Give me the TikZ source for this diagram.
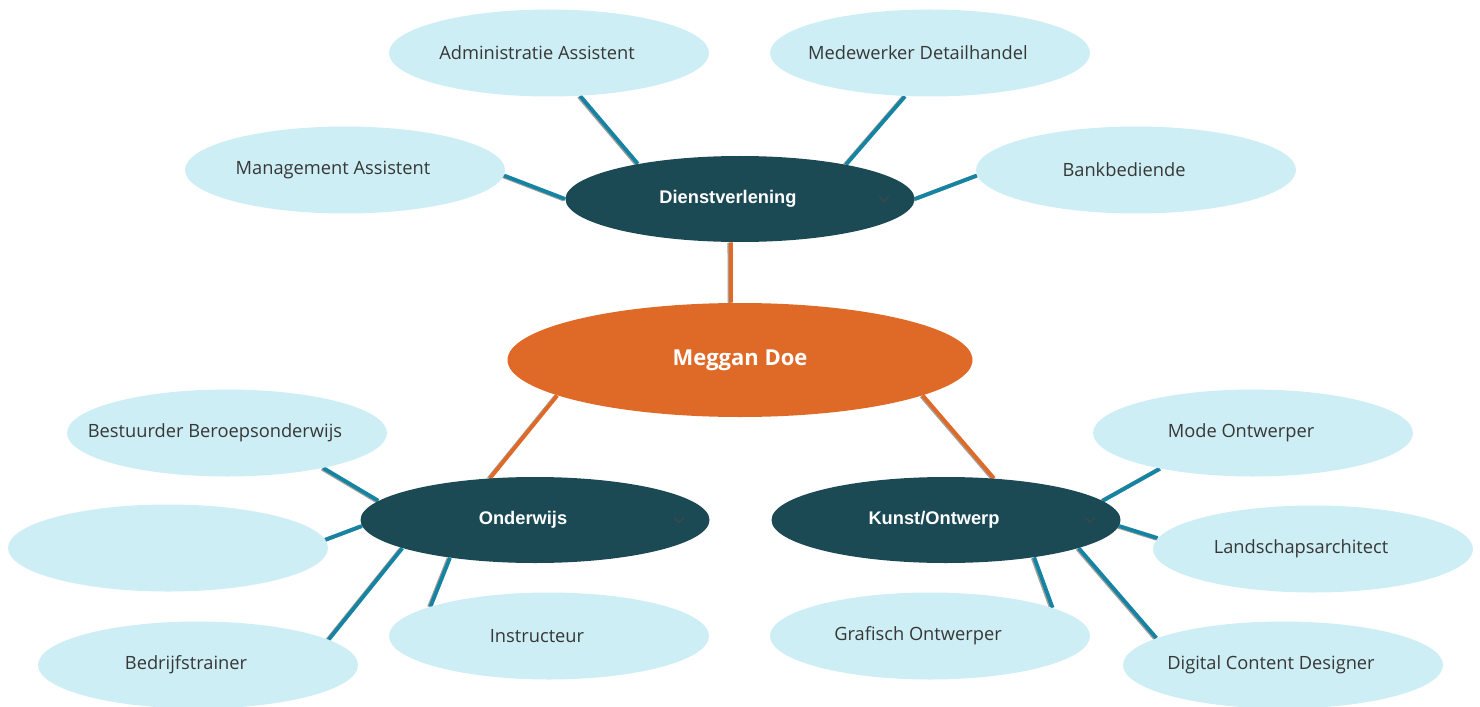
\documentclass[tikz,border=0pt]{standalone}
\usepackage{fontspec}
\setmainfont{Open Sans}
\newfontfamily\branchfont{Liberation Sans}
\usetikzlibrary{shapes.geometric,backgrounds}

\definecolor{leaffill}{RGB}{205,238,244}
\definecolor{leaftext}{RGB}{55,55,55}
\definecolor{darkteal}{RGB}{27,74,85}
\definecolor{rootorange}{RGB}{223,106,40}
\definecolor{linkblue}{RGB}{21,132,163}
\definecolor{shadowgray}{RGB}{165,160,155}
\definecolor{chevrongray}{RGB}{70,70,70}

\tikzstyle{leaf} = [ellipse,fill=leaffill,minimum width=6.4cm,minimum height=1.74cm,inner sep=0pt,text=leaftext,font=\fontsize{10.4}{12}\selectfont]
\tikzstyle{branch} = [ellipse,fill=darkteal,minimum width=6.98cm,minimum height=1.72cm,inner sep=0pt,text=white,font=\branchfont\bfseries\fontsize{10.4}{12}\selectfont]
\tikzstyle{root} = [ellipse,fill=rootorange,minimum width=9.3cm,minimum height=2.28cm,inner sep=0pt,text=white,font=\bfseries\fontsize{12.5}{15}\selectfont]
\tikzstyle{link} = [draw,line width=2.2pt,linkblue]
\tikzstyle{rootlink} = [draw,line width=2.2pt,rootorange]
\tikzstyle{linkshadow} = [draw,line width=2.2pt,shadowgray,transform canvas={xshift=-0.8pt,yshift=-0.3pt}]
\tikzstyle{chevron} = [draw=chevrongray,line width=0.6pt]

% text sits a little left of the ellipse centre, and never widens it
\newcommand{\leftish}[1]{\makebox[0pt]{#1\kern0.48cm}}

\begin{document}
\begin{tikzpicture}
      \useasboundingbox (0,0) rectangle (29.6,-14.12);
      % nodes
      \node[root] (root) at (14.8,-7.2) {Meggan Doe};
      \foreach \nodename/\x/\y/\text in {
        dienst/14.8/-3.98/Dienstverlening,
        onder/10.7/-10.4/Onderwijs,
        kunst/18.92/-10.4/Kunst\slash Ontwerp}
      {
        \node[branch] (\nodename) at (\x,\y) {\leftish{\text}};
        \draw[chevron, shift={(\nodename.center)}] (2.78,0.05) -- (2.88,-0.05) -- (2.98,0.05);
      };
      \foreach \nodename/\x/\y/\text in {
        admin/10.98/-1.06/Administratie Assistent,
        medew/18.6/-1.06/Medewerker Detailhandel,
        manag/6.9/-3.4/Management Assistent,
        bank/22.72/-3.4/Bankbediende,
        bestuur/4.54/-8.66/Bestuurder Beroepsonderwijs,
        leeg/3.36/-10.96/{},
        bedrijf/3.96/-13.3/Bedrijfstrainer,
        instruct/10.98/-12.72/Instructeur,
        mode/25.06/-8.66/Mode Ontwerper,
        landsch/26.26/-10.98/Landschapsarchitect,
        digital/25.66/-13.3/Digital Content Designer,
        grafisch/18.6/-12.72/Grafisch Ontwerper}
      {
        \node[leaf] (\nodename) at (\x,\y) {\leftish{\text}};
      };
      %edges
      \begin{scope}[on background layer]
        \foreach \startnode/\startangle/\endnode/\endangle in {
          root/99/dienst/258, root/191/onder/137, root/-11/kunst/41}
        {
          \draw[linkshadow] (\startnode.\startangle) -- (\endnode.\endangle);
          \draw[rootlink] (\startnode.\startangle) -- (\endnode.\endangle);
        };
        \foreach \startnode/\startangle/\endnode/\endangle in {
          dienst/161/admin/-54, dienst/180/manag/-2, dienst/18/medew/-120, dienst/0/bank/182,
          onder/173/bestuur/-20, onder/182/leeg/3, onder/192/bedrijf/11, onder/204/instruct/166,
          kunst/7/mode/201, kunst/-2/landsch/176, kunst/-12/digital/168, kunst/-23/grafisch/13}
        {
          \draw[linkshadow] (\startnode.\startangle) -- (\endnode.\endangle);
          \draw[link] (\startnode.\startangle) -- (\endnode.\endangle);
        };
      \end{scope}
    \end{tikzpicture}
\end{document}
